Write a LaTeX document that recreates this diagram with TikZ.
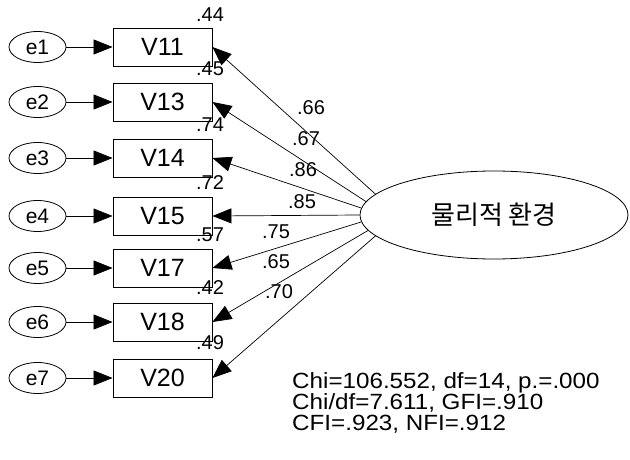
\documentclass[tikz,border=0pt]{standalone}
\usepackage{fontspec}
\setmainfont{Liberation Sans}
\newfontfamily\krfont{Noto Sans CJK KR}
\newfontfamily\statfont[FakeStretch=1.1]{Liberation Sans}
\usetikzlibrary{arrows.meta,shapes.geometric}
\begin{document}
\begin{tikzpicture}[x=1pt,y=-1pt,
  obs/.style={draw, line width=0.9pt, minimum width=99pt, minimum height=38pt, inner sep=0pt, font=\fontsize{25}{27}\selectfont},
  err/.style={draw, ellipse, line width=0.8pt, minimum width=57pt, minimum height=31pt, inner sep=0pt, font=\fontsize{21}{23}\selectfont},
  arr/.style={line width=0.7pt, -{Triangle[length=19pt,width=15pt]}},
  lab/.style={font=\fontsize{20}{22}\selectfont, inner sep=0pt},
  stat/.style={font=\statfont\fontsize{22}{24}\selectfont, inner sep=0pt, anchor=base west},
]
\useasboundingbox (0,0) rectangle (630,460);
% observed variables
\foreach \n/\y/\e in {V11/47/e1, V13/102/e2, V14/158/e3, V15/216/e4, V17/268/e5, V18/322/e6, V20/378/e7}{
  \node[obs] (\n) at (162.5,\y) {\n};
  \node[err] (\e) at (37.5,\y) {\e};
  \draw[arr] (\e) -- (\n);
}
% variance labels
\node[lab] (r1) at (210,15) {.44};
\node[lab] (r2) at (210,69) {.45};
\node[lab] (r3) at (210,125) {.74};
\node[lab] (r4) at (210,183) {.72};
\node[lab] (r5) at (210,235) {.57};
\node[lab] (r6) at (210,288) {.42};
\node[lab] (r7) at (210,343) {.49};
% factor
\node[draw, ellipse, line width=0.8pt, minimum width=268pt, minimum height=88pt, inner sep=0pt, font=\krfont\fontsize{26}{28}\selectfont] (F) at (494,215) {물리적 환경};
\draw[arr] (F.170.8) -- (V11.east);
\draw[arr] (F.174.7) -- (V13.east);
\draw[arr] (F.177) -- (V14.east);
\draw[arr] (F.180) -- (V15.east);
\draw[arr] (F.183.9) -- (V17.east);
\draw[arr] (F.187.5) -- (V18.east);
\draw[arr] (F.190.7) -- (V20.east);
% loadings
\node[lab] (l1) at (311,108) {.66};
\node[lab] (l2) at (306,139) {.67};
\node[lab] (l3) at (303,170) {.86};
\node[lab] (l4) at (302,202) {.85};
\node[lab] (l5) at (276,232) {.75};
\node[lab] (l6) at (276,262) {.65};
\node[lab] (l7) at (279,292) {.70};
% fit statistics
\node[stat] (s1) at (292,388) {Chi=106.552, df=14, p.=.000};
\node[stat] (s2) at (292,409) {Chi/df=7.611, GFI=.910};
\node[stat] (s3) at (292,430) {CFI=.923, NFI=.912};
\end{tikzpicture}
\end{document}
